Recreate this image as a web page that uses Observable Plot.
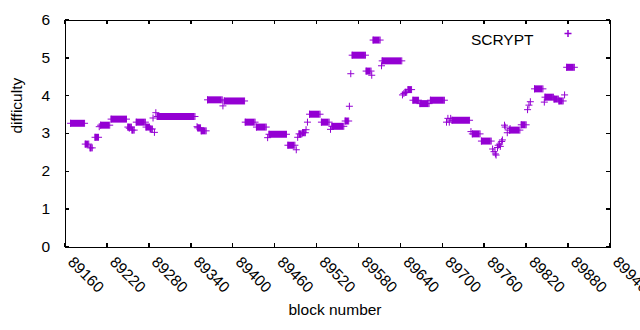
<!DOCTYPE html>
<html><head><meta charset="utf-8">
<script src="https://cdn.jsdelivr.net/npm/d3@7"></script>
<script src="https://cdn.jsdelivr.net/npm/@observablehq/plot@0.6"></script>
<style>body{margin:0;background:#fff}svg{display:block}</style>
</head><body><div id="chart"></div>
<script>
// Runs of consecutive blocks with the same difficulty
const runStart = [89168,89189,89196,89203,89211,89226,89250,89256,89262,89276,89282,89292,89350,89355,89364,89388,89418,89434,89452,89479,89495,89500,89510,89527,89542,89561,89571,89591,89601,89614,89647,89651,89658,89668,89683,89714,89743,89756,89796,89813,89832,89847,89860,89867,89878];
const runEnd   = [89188,89194,89199,89208,89224,89248,89255,89259,89275,89281,89285,89346,89354,89362,89385,89417,89432,89448,89477,89489,89499,89504,89525,89538,89559,89566,89590,89598,89611,89642,89649,89656,89666,89681,89703,89739,89754,89770,89811,89820,89844,89859,89866,89873,89889];
const runValue = [3.27,2.72,2.62,2.90,3.22,3.38,3.17,3.09,3.30,3.17,3.12,3.45,3.15,3.07,3.89,3.86,3.30,3.17,2.98,2.69,2.99,3.02,3.51,3.30,3.19,3.33,5.07,4.65,5.47,4.92,4.09,4.16,3.88,3.79,3.88,3.35,2.99,2.80,3.09,3.23,4.18,3.96,3.91,3.86,4.75];
// Isolated blocks
const ptBlock = [89209,89252,89286,89288,89290,89349,89386,89450,89491,89493,89505,89507,89540,89567,89569,89599,89613,89643,89645,89706,89708,89710,89712,89741,89772,89774,89776,89777,89779,89780,89782,89783,89785,89786,89789,89790,89793,89797,89822,89824,89826,89846,89875];
const ptValue = [3.18,3.14,3.41,3.03,3.55,3.18,3.73,2.89,2.57,2.90,3.10,3.30,3.11,3.72,4.58,4.54,4.79,4.02,4.06,3.30,3.40,3.30,3.40,3.05,2.59,2.52,2.46,2.43,2.63,2.69,2.72,2.66,2.79,2.83,3.22,3.17,3.02,3.13,3.63,3.75,3.84,3.83,4.02];
const xTicks = [89160,89220,89280,89340,89400,89460,89520,89580,89640,89700,89760,89820,89880,89940];
const yTicks = [0,1,2,3,4,5,6];
const seriesName = "SCRYPT";
const xLabel = "block number";
const yLabel = "difficulty";

const color = "#9400d3";
const runs = runStart.map((s, i) => ({start: s, end: runEnd[i], value: runValue[i]}));
const points = [
  ...runs.flatMap(r => [{block: r.start, value: r.value}, {block: r.end, value: r.value}]),
  ...ptBlock.map((b, i) => ({block: b, value: ptValue[i]}))
];

const plus = {draw(ctx, size) { const r = Math.sqrt(size / Math.PI); ctx.moveTo(-r, 0); ctx.lineTo(r, 0); ctx.moveTo(0, -r); ctx.lineTo(0, r); }};
const tickR = {draw(ctx) { ctx.moveTo(0, 0); ctx.lineTo(4, 0); }};
const tickL = {draw(ctx) { ctx.moveTo(0, 0); ctx.lineTo(-4, 0); }};
const tickU = {draw(ctx) { ctx.moveTo(0, 0); ctx.lineTo(0, -4); }};
const tickD = {draw(ctx) { ctx.moveTo(0, 0); ctx.lineTo(0, 4); }};
const fs = 15.5;

const chart = Plot.plot({
  width: 640, height: 330,
  marginLeft: 64.5, marginRight: 30.5, marginTop: 19.5, marginBottom: 83.5,
  style: {fontFamily: "'Liberation Sans', Arial, sans-serif", color: "black", background: "white"},
  x: {domain: [89160, 89940], axis: null},
  y: {domain: [0, 6], axis: null},
  marks: [
    Plot.ruleY(runs, {x1: "start", x2: "end", y: "value", stroke: color, strokeWidth: 7}),
    Plot.dot(points, {x: "block", y: "value", symbol: plus, r: 3.5, fill: "none", stroke: color, strokeWidth: 1}),
    Plot.dot(yTicks, {y: d => d, frameAnchor: "left", symbol: tickR, fill: "none", stroke: "black", shapeRendering: "crispEdges"}),
    Plot.dot(yTicks, {y: d => d, frameAnchor: "right", symbol: tickL, fill: "none", stroke: "black", shapeRendering: "crispEdges"}),
    Plot.dot(xTicks, {x: d => d, frameAnchor: "bottom", symbol: tickU, fill: "none", stroke: "black", shapeRendering: "crispEdges"}),
    Plot.dot(xTicks, {x: d => d, frameAnchor: "top", symbol: tickD, fill: "none", stroke: "black", shapeRendering: "crispEdges"}),
    Plot.frame({stroke: "black", shapeRendering: "crispEdges"}),
    Plot.text(yTicks, {y: d => d, text: d => String(d), frameAnchor: "left", textAnchor: "end", dx: -15, fontSize: fs, fill: "black"}),
    Plot.text(xTicks, {x: d => d, text: d => String(d), frameAnchor: "bottom", rotate: 45, textAnchor: "start", dx: 2, dy: 16, fontSize: fs, fill: "black"}),
    Plot.text([xLabel], {text: d => d, frameAnchor: "bottom", dx: -2.5, dy: 68, fontSize: fs, fill: "black"}),
    Plot.text([yLabel], {text: d => d, frameAnchor: "left", dx: -48, rotate: -90, fontSize: fs, fill: "black"}),
    Plot.text([seriesName], {text: d => d, frameAnchor: "top-right", dx: -76.5, dy: 13.5, textAnchor: "end", fontSize: fs, fill: "black"}),
    Plot.dot([seriesName], {frameAnchor: "top-right", dx: -42, dy: 13.5, symbol: plus, r: 3.5, fill: "none", stroke: color})
  ]
});
document.getElementById("chart").append(chart);
</script>
</body></html>
